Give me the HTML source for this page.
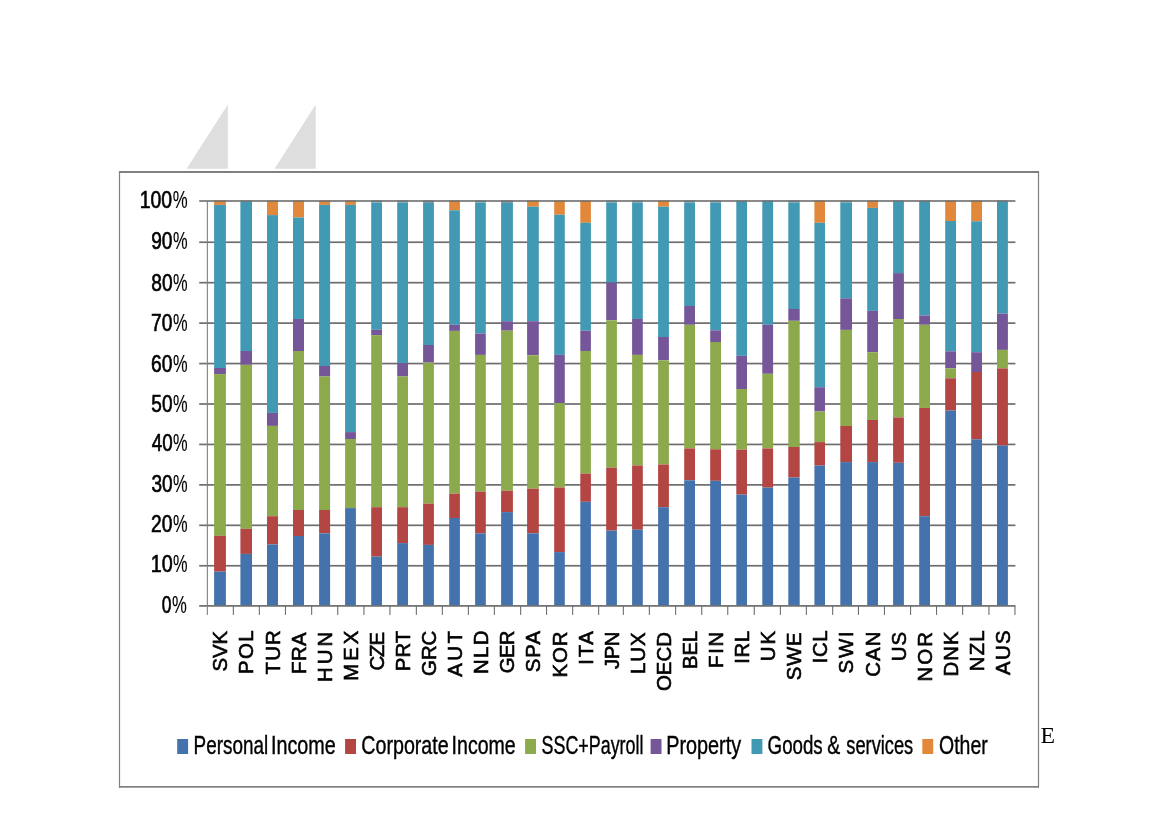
<!DOCTYPE html>
<html lang="en"><head><meta charset="utf-8"><title>Tax structure by country</title>
<style>html,body{margin:0;padding:0;background:#fff}body{width:1169px;height:827px;overflow:hidden;position:relative}svg{display:block;position:absolute;left:0;top:0}text{font-family:"Liberation Sans",sans-serif;fill:#000}.yl text{stroke:#000;stroke-width:.65px}.yl .pc{stroke-width:.15px}.xl text{stroke:#000;stroke-width:.6px}.lg text{stroke:#000;stroke-width:.4px}text.ser{font-family:"Liberation Serif",serif}</style></head><body>
<svg width="1169" height="827" viewBox="0 0 1169 827">
<rect width="1169" height="827" fill="#fff"/>
<polygon points="227.8,104.4 227.8,168.8 186.7,168.8" fill="#dedede"/>
<polygon points="315.7,104.4 315.7,168.8 274.6,168.8" fill="#dedede"/>
<g fill="#808080">
<rect x="119" y="171" width="920" height="2"/>
<rect x="119" y="786" width="920" height="1.7"/>
<rect x="118.9" y="171" width="1.2" height="616.7"/>
<rect x="1037.9" y="171" width="1.2" height="616.7"/>
</g>
<g fill="#6e6e6e">
<rect x="199.2" y="241.39" width="816.2" height="1.7"/>
<rect x="199.2" y="281.83" width="816.2" height="1.7"/>
<rect x="199.2" y="322.27" width="816.2" height="1.7"/>
<rect x="199.2" y="362.71" width="816.2" height="1.7"/>
<rect x="199.2" y="403.15" width="816.2" height="1.7"/>
<rect x="199.2" y="443.59" width="816.2" height="1.7"/>
<rect x="199.2" y="484.03" width="816.2" height="1.7"/>
<rect x="199.2" y="524.47" width="816.2" height="1.7"/>
<rect x="199.2" y="564.91" width="816.2" height="1.7"/>
</g>
<g>
<rect x="214.1" y="200.5" width="11.8" height="4.4" fill="#e2883b"/>
<rect x="214.1" y="204.9" width="11.8" height="163.1" fill="#4199b3"/>
<rect x="214.1" y="368.0" width="11.8" height="6.1" fill="#755699"/>
<rect x="214.1" y="374.1" width="11.8" height="161.7" fill="#8caa4c"/>
<rect x="214.1" y="535.8" width="11.8" height="35.8" fill="#b34543"/>
<rect x="214.1" y="571.6" width="11.8" height="33.9" fill="#4472ac"/>
</g>
<g>
<rect x="240.4" y="200.5" width="11.6" height="1.3" fill="#7f9ba6"/>
<rect x="240.4" y="201.8" width="11.6" height="149.2" fill="#4199b3"/>
<rect x="240.4" y="351.0" width="11.6" height="13.8" fill="#755699"/>
<rect x="240.4" y="364.8" width="11.6" height="164.0" fill="#8caa4c"/>
<rect x="240.4" y="528.8" width="11.6" height="25.1" fill="#b34543"/>
<rect x="240.4" y="553.9" width="11.6" height="51.6" fill="#4472ac"/>
</g>
<g>
<rect x="267.0" y="200.5" width="11.0" height="14.6" fill="#e2883b"/>
<rect x="267.0" y="215.1" width="11.0" height="197.8" fill="#4199b3"/>
<rect x="267.0" y="412.9" width="11.0" height="13.0" fill="#755699"/>
<rect x="267.0" y="425.9" width="11.0" height="90.3" fill="#8caa4c"/>
<rect x="267.0" y="516.2" width="11.0" height="28.2" fill="#b34543"/>
<rect x="267.0" y="544.4" width="11.0" height="61.1" fill="#4472ac"/>
</g>
<g>
<rect x="293.0" y="200.5" width="11.0" height="17.0" fill="#e2883b"/>
<rect x="293.0" y="217.5" width="11.0" height="101.5" fill="#4199b3"/>
<rect x="293.0" y="319.0" width="11.0" height="32.0" fill="#755699"/>
<rect x="293.0" y="351.0" width="11.0" height="159.0" fill="#8caa4c"/>
<rect x="293.0" y="510.0" width="11.0" height="26.0" fill="#b34543"/>
<rect x="293.0" y="536.0" width="11.0" height="69.5" fill="#4472ac"/>
</g>
<g>
<rect x="319.1" y="200.5" width="11.0" height="4.4" fill="#e2883b"/>
<rect x="319.1" y="204.9" width="11.0" height="161.1" fill="#4199b3"/>
<rect x="319.1" y="366.0" width="11.0" height="10.5" fill="#755699"/>
<rect x="319.1" y="376.5" width="11.0" height="133.5" fill="#8caa4c"/>
<rect x="319.1" y="510.0" width="11.0" height="23.3" fill="#b34543"/>
<rect x="319.1" y="533.3" width="11.0" height="72.2" fill="#4472ac"/>
</g>
<g>
<rect x="345.1" y="200.5" width="10.8" height="4.4" fill="#e2883b"/>
<rect x="345.1" y="204.9" width="10.8" height="227.2" fill="#4199b3"/>
<rect x="345.1" y="432.1" width="10.8" height="6.9" fill="#755699"/>
<rect x="345.1" y="439.0" width="10.8" height="69.1" fill="#8caa4c"/>
<rect x="345.1" y="508.1" width="10.8" height="97.4" fill="#4472ac"/>
</g>
<g>
<rect x="371.2" y="200.5" width="10.8" height="2.0" fill="#7f9ba6"/>
<rect x="371.2" y="202.5" width="10.8" height="127.3" fill="#4199b3"/>
<rect x="371.2" y="329.8" width="10.8" height="5.3" fill="#755699"/>
<rect x="371.2" y="335.1" width="10.8" height="172.1" fill="#8caa4c"/>
<rect x="371.2" y="507.2" width="10.8" height="49.4" fill="#b34543"/>
<rect x="371.2" y="556.6" width="10.8" height="48.9" fill="#4472ac"/>
</g>
<g>
<rect x="397.2" y="200.5" width="10.8" height="2.0" fill="#7f9ba6"/>
<rect x="397.2" y="202.5" width="10.8" height="160.5" fill="#4199b3"/>
<rect x="397.2" y="363.0" width="10.8" height="13.5" fill="#755699"/>
<rect x="397.2" y="376.5" width="10.8" height="130.7" fill="#8caa4c"/>
<rect x="397.2" y="507.2" width="10.8" height="35.9" fill="#b34543"/>
<rect x="397.2" y="543.1" width="10.8" height="62.4" fill="#4472ac"/>
</g>
<g>
<rect x="423.1" y="200.5" width="10.8" height="2.5" fill="#7f9ba6"/>
<rect x="423.1" y="203.0" width="10.8" height="142.0" fill="#4199b3"/>
<rect x="423.1" y="345.0" width="10.8" height="17.5" fill="#755699"/>
<rect x="423.1" y="362.5" width="10.8" height="141.1" fill="#8caa4c"/>
<rect x="423.1" y="503.6" width="10.8" height="41.3" fill="#b34543"/>
<rect x="423.1" y="544.9" width="10.8" height="60.6" fill="#4472ac"/>
</g>
<g>
<rect x="449.2" y="200.5" width="10.7" height="9.8" fill="#e2883b"/>
<rect x="449.2" y="210.3" width="10.7" height="114.5" fill="#4199b3"/>
<rect x="449.2" y="324.8" width="10.7" height="6.1" fill="#755699"/>
<rect x="449.2" y="330.9" width="10.7" height="162.8" fill="#8caa4c"/>
<rect x="449.2" y="493.7" width="10.7" height="24.3" fill="#b34543"/>
<rect x="449.2" y="518.0" width="10.7" height="87.5" fill="#4472ac"/>
</g>
<g>
<rect x="475.1" y="200.5" width="10.7" height="2.0" fill="#7f9ba6"/>
<rect x="475.1" y="202.5" width="10.7" height="131.0" fill="#4199b3"/>
<rect x="475.1" y="333.5" width="10.7" height="21.4" fill="#755699"/>
<rect x="475.1" y="354.9" width="10.7" height="136.7" fill="#8caa4c"/>
<rect x="475.1" y="491.6" width="10.7" height="41.7" fill="#b34543"/>
<rect x="475.1" y="533.3" width="10.7" height="72.2" fill="#4472ac"/>
</g>
<g>
<rect x="501.1" y="200.5" width="11.8" height="2.5" fill="#7f9ba6"/>
<rect x="501.1" y="203.0" width="11.8" height="118.2" fill="#4199b3"/>
<rect x="501.1" y="321.2" width="11.8" height="9.5" fill="#755699"/>
<rect x="501.1" y="330.7" width="11.8" height="160.0" fill="#8caa4c"/>
<rect x="501.1" y="490.7" width="11.8" height="21.4" fill="#b34543"/>
<rect x="501.1" y="512.1" width="11.8" height="93.4" fill="#4472ac"/>
</g>
<g>
<rect x="527.1" y="200.5" width="11.7" height="6.2" fill="#e2883b"/>
<rect x="527.1" y="206.7" width="11.7" height="114.5" fill="#4199b3"/>
<rect x="527.1" y="321.2" width="11.7" height="34.1" fill="#755699"/>
<rect x="527.1" y="355.3" width="11.7" height="133.4" fill="#8caa4c"/>
<rect x="527.1" y="488.7" width="11.7" height="44.6" fill="#b34543"/>
<rect x="527.1" y="533.3" width="11.7" height="72.2" fill="#4472ac"/>
</g>
<g>
<rect x="554.2" y="200.5" width="10.6" height="14.3" fill="#e2883b"/>
<rect x="554.2" y="214.8" width="10.6" height="140.1" fill="#4199b3"/>
<rect x="554.2" y="354.9" width="10.6" height="48.1" fill="#755699"/>
<rect x="554.2" y="403.0" width="10.6" height="84.5" fill="#8caa4c"/>
<rect x="554.2" y="487.5" width="10.6" height="64.6" fill="#b34543"/>
<rect x="554.2" y="552.1" width="10.6" height="53.4" fill="#4472ac"/>
</g>
<g>
<rect x="580.3" y="200.5" width="10.6" height="22.3" fill="#e2883b"/>
<rect x="580.3" y="222.8" width="10.6" height="107.9" fill="#4199b3"/>
<rect x="580.3" y="330.7" width="10.6" height="20.3" fill="#755699"/>
<rect x="580.3" y="351.0" width="10.6" height="122.6" fill="#8caa4c"/>
<rect x="580.3" y="473.6" width="10.6" height="28.2" fill="#b34543"/>
<rect x="580.3" y="501.8" width="10.6" height="103.7" fill="#4472ac"/>
</g>
<g>
<rect x="606.2" y="200.5" width="10.7" height="2.0" fill="#7f9ba6"/>
<rect x="606.2" y="202.5" width="10.7" height="80.0" fill="#4199b3"/>
<rect x="606.2" y="282.5" width="10.7" height="37.8" fill="#755699"/>
<rect x="606.2" y="320.3" width="10.7" height="147.4" fill="#8caa4c"/>
<rect x="606.2" y="467.7" width="10.7" height="62.9" fill="#b34543"/>
<rect x="606.2" y="530.6" width="10.7" height="74.9" fill="#4472ac"/>
</g>
<g>
<rect x="632.1" y="200.5" width="10.7" height="2.0" fill="#7f9ba6"/>
<rect x="632.1" y="202.5" width="10.7" height="116.5" fill="#4199b3"/>
<rect x="632.1" y="319.0" width="10.7" height="35.9" fill="#755699"/>
<rect x="632.1" y="354.9" width="10.7" height="110.5" fill="#8caa4c"/>
<rect x="632.1" y="465.4" width="10.7" height="64.3" fill="#b34543"/>
<rect x="632.1" y="529.7" width="10.7" height="75.8" fill="#4472ac"/>
</g>
<g>
<rect x="658.1" y="200.5" width="10.8" height="6.2" fill="#e2883b"/>
<rect x="658.1" y="206.7" width="10.8" height="130.3" fill="#4199b3"/>
<rect x="658.1" y="337.0" width="10.8" height="23.3" fill="#755699"/>
<rect x="658.1" y="360.3" width="10.8" height="104.2" fill="#8caa4c"/>
<rect x="658.1" y="464.5" width="10.8" height="42.7" fill="#b34543"/>
<rect x="658.1" y="507.2" width="10.8" height="98.3" fill="#4472ac"/>
</g>
<g>
<rect x="684.2" y="200.5" width="10.8" height="2.0" fill="#7f9ba6"/>
<rect x="684.2" y="202.5" width="10.8" height="103.5" fill="#4199b3"/>
<rect x="684.2" y="306.0" width="10.8" height="18.8" fill="#755699"/>
<rect x="684.2" y="324.8" width="10.8" height="123.6" fill="#8caa4c"/>
<rect x="684.2" y="448.4" width="10.8" height="31.9" fill="#b34543"/>
<rect x="684.2" y="480.3" width="10.8" height="125.2" fill="#4472ac"/>
</g>
<g>
<rect x="710.2" y="200.5" width="10.8" height="2.0" fill="#7f9ba6"/>
<rect x="710.2" y="202.5" width="10.8" height="127.8" fill="#4199b3"/>
<rect x="710.2" y="330.3" width="10.8" height="11.7" fill="#755699"/>
<rect x="710.2" y="342.0" width="10.8" height="107.3" fill="#8caa4c"/>
<rect x="710.2" y="449.3" width="10.8" height="31.5" fill="#b34543"/>
<rect x="710.2" y="480.8" width="10.8" height="124.7" fill="#4472ac"/>
</g>
<g>
<rect x="736.3" y="200.5" width="10.7" height="0.7" fill="#7f9ba6"/>
<rect x="736.3" y="201.2" width="10.7" height="154.6" fill="#4199b3"/>
<rect x="736.3" y="355.8" width="10.7" height="33.2" fill="#755699"/>
<rect x="736.3" y="389.0" width="10.7" height="60.6" fill="#8caa4c"/>
<rect x="736.3" y="449.6" width="10.7" height="45.0" fill="#b34543"/>
<rect x="736.3" y="494.6" width="10.7" height="110.9" fill="#4472ac"/>
</g>
<g>
<rect x="762.3" y="200.5" width="10.8" height="0.7" fill="#7f9ba6"/>
<rect x="762.3" y="201.2" width="10.8" height="123.6" fill="#4199b3"/>
<rect x="762.3" y="324.8" width="10.8" height="49.0" fill="#755699"/>
<rect x="762.3" y="373.8" width="10.8" height="74.6" fill="#8caa4c"/>
<rect x="762.3" y="448.4" width="10.8" height="39.2" fill="#b34543"/>
<rect x="762.3" y="487.6" width="10.8" height="117.9" fill="#4472ac"/>
</g>
<g>
<rect x="788.3" y="200.5" width="11.4" height="2.0" fill="#7f9ba6"/>
<rect x="788.3" y="202.5" width="11.4" height="106.5" fill="#4199b3"/>
<rect x="788.3" y="309.0" width="11.4" height="11.8" fill="#755699"/>
<rect x="788.3" y="320.8" width="11.4" height="126.2" fill="#8caa4c"/>
<rect x="788.3" y="447.0" width="11.4" height="30.6" fill="#b34543"/>
<rect x="788.3" y="477.6" width="11.4" height="127.9" fill="#4472ac"/>
</g>
<g>
<rect x="814.4" y="200.5" width="10.6" height="22.3" fill="#e2883b"/>
<rect x="814.4" y="222.8" width="10.6" height="164.4" fill="#4199b3"/>
<rect x="814.4" y="387.2" width="10.6" height="24.3" fill="#755699"/>
<rect x="814.4" y="411.5" width="10.6" height="30.6" fill="#8caa4c"/>
<rect x="814.4" y="442.1" width="10.6" height="23.5" fill="#b34543"/>
<rect x="814.4" y="465.6" width="10.6" height="139.9" fill="#4472ac"/>
</g>
<g>
<rect x="840.3" y="200.5" width="11.7" height="2.0" fill="#7f9ba6"/>
<rect x="840.3" y="202.5" width="11.7" height="95.8" fill="#4199b3"/>
<rect x="840.3" y="298.3" width="11.7" height="31.6" fill="#755699"/>
<rect x="840.3" y="329.9" width="11.7" height="96.1" fill="#8caa4c"/>
<rect x="840.3" y="426.0" width="11.7" height="36.1" fill="#b34543"/>
<rect x="840.3" y="462.1" width="11.7" height="143.4" fill="#4472ac"/>
</g>
<g>
<rect x="867.2" y="200.5" width="10.8" height="7.4" fill="#e2883b"/>
<rect x="867.2" y="207.9" width="10.8" height="103.0" fill="#4199b3"/>
<rect x="867.2" y="310.9" width="10.8" height="41.3" fill="#755699"/>
<rect x="867.2" y="352.2" width="10.8" height="67.7" fill="#8caa4c"/>
<rect x="867.2" y="419.9" width="10.8" height="42.2" fill="#b34543"/>
<rect x="867.2" y="462.1" width="10.8" height="143.4" fill="#4472ac"/>
</g>
<g>
<rect x="893.1" y="200.5" width="10.8" height="0.7" fill="#7f9ba6"/>
<rect x="893.1" y="201.2" width="10.8" height="71.9" fill="#4199b3"/>
<rect x="893.1" y="273.1" width="10.8" height="45.9" fill="#755699"/>
<rect x="893.1" y="319.0" width="10.8" height="98.4" fill="#8caa4c"/>
<rect x="893.1" y="417.4" width="10.8" height="45.4" fill="#b34543"/>
<rect x="893.1" y="462.8" width="10.8" height="142.7" fill="#4472ac"/>
</g>
<g>
<rect x="919.2" y="200.5" width="10.8" height="1.5" fill="#7f9ba6"/>
<rect x="919.2" y="202.0" width="10.8" height="113.5" fill="#4199b3"/>
<rect x="919.2" y="315.5" width="10.8" height="9.3" fill="#755699"/>
<rect x="919.2" y="324.8" width="10.8" height="83.1" fill="#8caa4c"/>
<rect x="919.2" y="407.9" width="10.8" height="108.3" fill="#b34543"/>
<rect x="919.2" y="516.2" width="10.8" height="89.3" fill="#4472ac"/>
</g>
<g>
<rect x="945.2" y="200.5" width="10.8" height="20.5" fill="#e2883b"/>
<rect x="945.2" y="221.0" width="10.8" height="130.3" fill="#4199b3"/>
<rect x="945.2" y="351.3" width="10.8" height="17.1" fill="#755699"/>
<rect x="945.2" y="368.4" width="10.8" height="9.9" fill="#8caa4c"/>
<rect x="945.2" y="378.3" width="10.8" height="32.3" fill="#b34543"/>
<rect x="945.2" y="410.6" width="10.8" height="194.9" fill="#4472ac"/>
</g>
<g>
<rect x="971.2" y="200.5" width="10.8" height="20.8" fill="#e2883b"/>
<rect x="971.2" y="221.3" width="10.8" height="130.9" fill="#4199b3"/>
<rect x="971.2" y="352.2" width="10.8" height="19.8" fill="#755699"/>
<rect x="971.2" y="372.0" width="10.8" height="67.3" fill="#b34543"/>
<rect x="971.2" y="439.3" width="10.8" height="166.2" fill="#4472ac"/>
</g>
<g>
<rect x="997.0" y="200.5" width="10.9" height="0.7" fill="#7f9ba6"/>
<rect x="997.0" y="201.2" width="10.9" height="112.4" fill="#4199b3"/>
<rect x="997.0" y="313.6" width="10.9" height="36.3" fill="#755699"/>
<rect x="997.0" y="349.9" width="10.9" height="18.5" fill="#8caa4c"/>
<rect x="997.0" y="368.4" width="10.9" height="77.2" fill="#b34543"/>
<rect x="997.0" y="445.6" width="10.9" height="159.9" fill="#4472ac"/>
</g>
<g fill="#6e6e6e">
<rect x="199.2" y="605.05" width="816.2" height="1.7"/>
<rect x="199.2" y="200.20" width="816.2" height="1.6"/>
<rect x="206.8" y="200.9" width="1.1" height="414.0" fill="#808080"/>
<rect x="232.8" y="605.9" width="1.1" height="9"/>
<rect x="258.8" y="605.9" width="1.1" height="9"/>
<rect x="284.9" y="605.9" width="1.1" height="9"/>
<rect x="311.1" y="605.9" width="1.1" height="9"/>
<rect x="337.2" y="605.9" width="1.1" height="9"/>
<rect x="363.4" y="605.9" width="1.1" height="9"/>
<rect x="389.4" y="605.9" width="1.1" height="9"/>
<rect x="415.8" y="605.9" width="1.1" height="9"/>
<rect x="441.8" y="605.9" width="1.1" height="9"/>
<rect x="467.8" y="605.9" width="1.1" height="9"/>
<rect x="493.8" y="605.9" width="1.1" height="9"/>
<rect x="520.1" y="605.9" width="1.1" height="9"/>
<rect x="546.0" y="605.9" width="1.1" height="9"/>
<rect x="572.1" y="605.9" width="1.1" height="9"/>
<rect x="598.1" y="605.9" width="1.1" height="9"/>
<rect x="622.8" y="605.9" width="1.1" height="9"/>
<rect x="648.8" y="605.9" width="1.1" height="9"/>
<rect x="675.1" y="605.9" width="1.1" height="9"/>
<rect x="701.2" y="605.9" width="1.1" height="9"/>
<rect x="727.2" y="605.9" width="1.1" height="9"/>
<rect x="753.7" y="605.9" width="1.1" height="9"/>
<rect x="779.8" y="605.9" width="1.1" height="9"/>
<rect x="805.8" y="605.9" width="1.1" height="9"/>
<rect x="832.1" y="605.9" width="1.1" height="9"/>
<rect x="857.9" y="605.9" width="1.1" height="9"/>
<rect x="883.9" y="605.9" width="1.1" height="9"/>
<rect x="910.0" y="605.9" width="1.1" height="9"/>
<rect x="936.0" y="605.9" width="1.1" height="9"/>
<rect x="962.1" y="605.9" width="1.1" height="9"/>
<rect x="988.4" y="605.9" width="1.1" height="9"/>
<rect x="1014.4" y="605.9" width="1.1" height="9"/>
</g>
<g class="yl" font-size="24">
<text y="207.6"><tspan x="139.7" textLength="32.4" lengthAdjust="spacingAndGlyphs">100</tspan><tspan class="pc" x="172.7" textLength="14.9" lengthAdjust="spacingAndGlyphs">%</tspan></text>
<text y="248.5"><tspan x="151.2" textLength="21.3" lengthAdjust="spacingAndGlyphs">90</tspan><tspan class="pc" x="173.1" textLength="14.6" lengthAdjust="spacingAndGlyphs">%</tspan></text>
<text y="290.6"><tspan x="151.3" textLength="21.3" lengthAdjust="spacingAndGlyphs">80</tspan><tspan class="pc" x="173.1" textLength="14.6" lengthAdjust="spacingAndGlyphs">%</tspan></text>
<text y="331.0"><tspan x="151.1" textLength="21.4" lengthAdjust="spacingAndGlyphs">70</tspan><tspan class="pc" x="173.1" textLength="14.6" lengthAdjust="spacingAndGlyphs">%</tspan></text>
<text y="372.4"><tspan x="151.1" textLength="21.4" lengthAdjust="spacingAndGlyphs">60</tspan><tspan class="pc" x="173.1" textLength="14.6" lengthAdjust="spacingAndGlyphs">%</tspan></text>
<text y="412.4"><tspan x="151.3" textLength="21.2" lengthAdjust="spacingAndGlyphs">50</tspan><tspan class="pc" x="173.1" textLength="14.6" lengthAdjust="spacingAndGlyphs">%</tspan></text>
<text y="451.4"><tspan x="151.7" textLength="20.9" lengthAdjust="spacingAndGlyphs">40</tspan><tspan class="pc" x="173.1" textLength="14.6" lengthAdjust="spacingAndGlyphs">%</tspan></text>
<text y="491.5"><tspan x="151.4" textLength="21.2" lengthAdjust="spacingAndGlyphs">30</tspan><tspan class="pc" x="173.1" textLength="14.6" lengthAdjust="spacingAndGlyphs">%</tspan></text>
<text y="532.3"><tspan x="151.1" textLength="21.4" lengthAdjust="spacingAndGlyphs">20</tspan><tspan class="pc" x="173.1" textLength="14.6" lengthAdjust="spacingAndGlyphs">%</tspan></text>
<text y="572.4"><tspan x="150.7" textLength="22.0" lengthAdjust="spacingAndGlyphs">10</tspan><tspan class="pc" x="173.0" textLength="14.5" lengthAdjust="spacingAndGlyphs">%</tspan></text>
<text y="612.6"><tspan x="161.7" textLength="9.7" lengthAdjust="spacingAndGlyphs">0</tspan><tspan class="pc" x="171.9" textLength="14.8" lengthAdjust="spacingAndGlyphs">%</tspan></text>
</g>
<g class="xl" font-size="20.4">
<text transform="translate(227.0 0) rotate(-90)" x="-671.6" textLength="40.8" lengthAdjust="spacing">SVK</text>
<text transform="translate(253.2 0) rotate(-90)" x="-673.9" textLength="43.5" lengthAdjust="spacing">POL</text>
<text transform="translate(279.5 0) rotate(-90)" x="-674.5" textLength="44.3" lengthAdjust="spacing">TUR</text>
<text transform="translate(305.5 0) rotate(-90)" x="-673.9" textLength="41.5" lengthAdjust="spacing">FRA</text>
<text transform="translate(331.6 0) rotate(-90)" x="-682.0" textLength="50.3" lengthAdjust="spacing">HUN</text>
<text transform="translate(357.5 0) rotate(-90)" x="-680.7" textLength="50.0" lengthAdjust="spacing">MEX</text>
<text transform="translate(383.6 0) rotate(-90)" x="-670.5" textLength="38.5" lengthAdjust="spacing">CZE</text>
<text transform="translate(409.6 0) rotate(-90)" x="-671.2" textLength="40.5" lengthAdjust="spacing">PRT</text>
<text transform="translate(435.5 0) rotate(-90)" x="-675.9" textLength="45.2" lengthAdjust="spacing">GRC</text>
<text transform="translate(461.5 0) rotate(-90)" x="-676.7" textLength="45.7" lengthAdjust="spacing">AUT</text>
<text transform="translate(487.5 0) rotate(-90)" x="-673.9" textLength="43.3" lengthAdjust="spacing">NLD</text>
<text transform="translate(514.0 0) rotate(-90)" x="-673.2" textLength="42.7" lengthAdjust="spacing">GER</text>
<text transform="translate(540.0 0) rotate(-90)" x="-672.2" textLength="41.2" lengthAdjust="spacing">SPA</text>
<text transform="translate(566.5 0) rotate(-90)" x="-677.5" textLength="46.0" lengthAdjust="spacing">KOR</text>
<text transform="translate(592.6 0) rotate(-90)" x="-664.7" textLength="33.6" lengthAdjust="spacing">ITA</text>
<text transform="translate(618.5 0) rotate(-90)" x="-668.9" textLength="37.3" lengthAdjust="spacing">JPN</text>
<text transform="translate(644.5 0) rotate(-90)" x="-673.9" textLength="41.4" lengthAdjust="spacing">LUX</text>
<text transform="translate(670.5 0) rotate(-90)" x="-691.1" textLength="59.1" lengthAdjust="spacing">OECD</text>
<text transform="translate(696.6 0) rotate(-90)" x="-668.9" textLength="38.1" lengthAdjust="spacing">BEL</text>
<text transform="translate(722.6 0) rotate(-90)" x="-668.1" textLength="36.4" lengthAdjust="spacing">FIN</text>
<text transform="translate(748.6 0) rotate(-90)" x="-663.7" textLength="32.9" lengthAdjust="spacing">IRL</text>
<text transform="translate(774.7 0) rotate(-90)" x="-661.2" textLength="30.3" lengthAdjust="spacing">UK</text>
<text transform="translate(801.0 0) rotate(-90)" x="-680.3" textLength="47.9" lengthAdjust="spacing">SWE</text>
<text transform="translate(826.7 0) rotate(-90)" x="-663.3" textLength="32.9" lengthAdjust="spacing">ICL</text>
<text transform="translate(853.1 0) rotate(-90)" x="-673.4" textLength="42.0" lengthAdjust="spacing">SWI</text>
<text transform="translate(879.6 0) rotate(-90)" x="-676.8" textLength="45.2" lengthAdjust="spacing">CAN</text>
<text transform="translate(905.5 0) rotate(-90)" x="-661.2" textLength="29.2" lengthAdjust="spacing">US</text>
<text transform="translate(931.6 0) rotate(-90)" x="-681.4" textLength="49.4" lengthAdjust="spacing">NOR</text>
<text transform="translate(957.6 0) rotate(-90)" x="-676.6" textLength="45.3" lengthAdjust="spacing">DNK</text>
<text transform="translate(983.6 0) rotate(-90)" x="-671.2" textLength="40.8" lengthAdjust="spacing">NZL</text>
<text transform="translate(1009.5 0) rotate(-90)" x="-674.9" textLength="44.4" lengthAdjust="spacing">AUS</text>
</g>
<g class="lg" font-size="25.4">
<rect x="177.2" y="739" width="10.9" height="15" fill="#4472ac" stroke="none"/>
<text y="753.6"><tspan x="193.6" textLength="74.5" lengthAdjust="spacingAndGlyphs">Personal</tspan> <tspan x="271.0" textLength="64.7" lengthAdjust="spacingAndGlyphs">Income</tspan></text>
<rect x="345.1" y="739" width="10.9" height="15" fill="#b34543" stroke="none"/>
<text y="753.6"><tspan x="361.3" textLength="87.4" lengthAdjust="spacingAndGlyphs">Corporate</tspan> <tspan x="451.6" textLength="64.1" lengthAdjust="spacingAndGlyphs">Income</tspan></text>
<rect x="525.1" y="739" width="10.9" height="15" fill="#8caa4c" stroke="none"/>
<text y="753.6"><tspan x="541.5" textLength="102.0" lengthAdjust="spacingAndGlyphs">SSC+Payroll</tspan></text>
<rect x="650.6" y="739" width="10.9" height="15" fill="#755699" stroke="none"/>
<text y="753.6"><tspan x="666.2" textLength="74.9" lengthAdjust="spacingAndGlyphs">Property</tspan></text>
<rect x="751.5" y="739" width="10.9" height="15" fill="#4199b3" stroke="none"/>
<text y="753.6"><tspan x="767.6" textLength="55.1" lengthAdjust="spacingAndGlyphs">Goods</tspan> <tspan x="827.2" textLength="13.0" lengthAdjust="spacingAndGlyphs">&amp;</tspan> <tspan x="846.3" textLength="66.9" lengthAdjust="spacingAndGlyphs">services</tspan></text>
<rect x="922.3" y="739" width="10.9" height="15" fill="#e2883b" stroke="none"/>
<text y="753.6"><tspan x="939.0" textLength="48.7" lengthAdjust="spacingAndGlyphs">Other</tspan></text>
</g>
<text class="ser" x="1040.4" y="743.1" font-size="23.8">E</text>
</svg></body></html>
